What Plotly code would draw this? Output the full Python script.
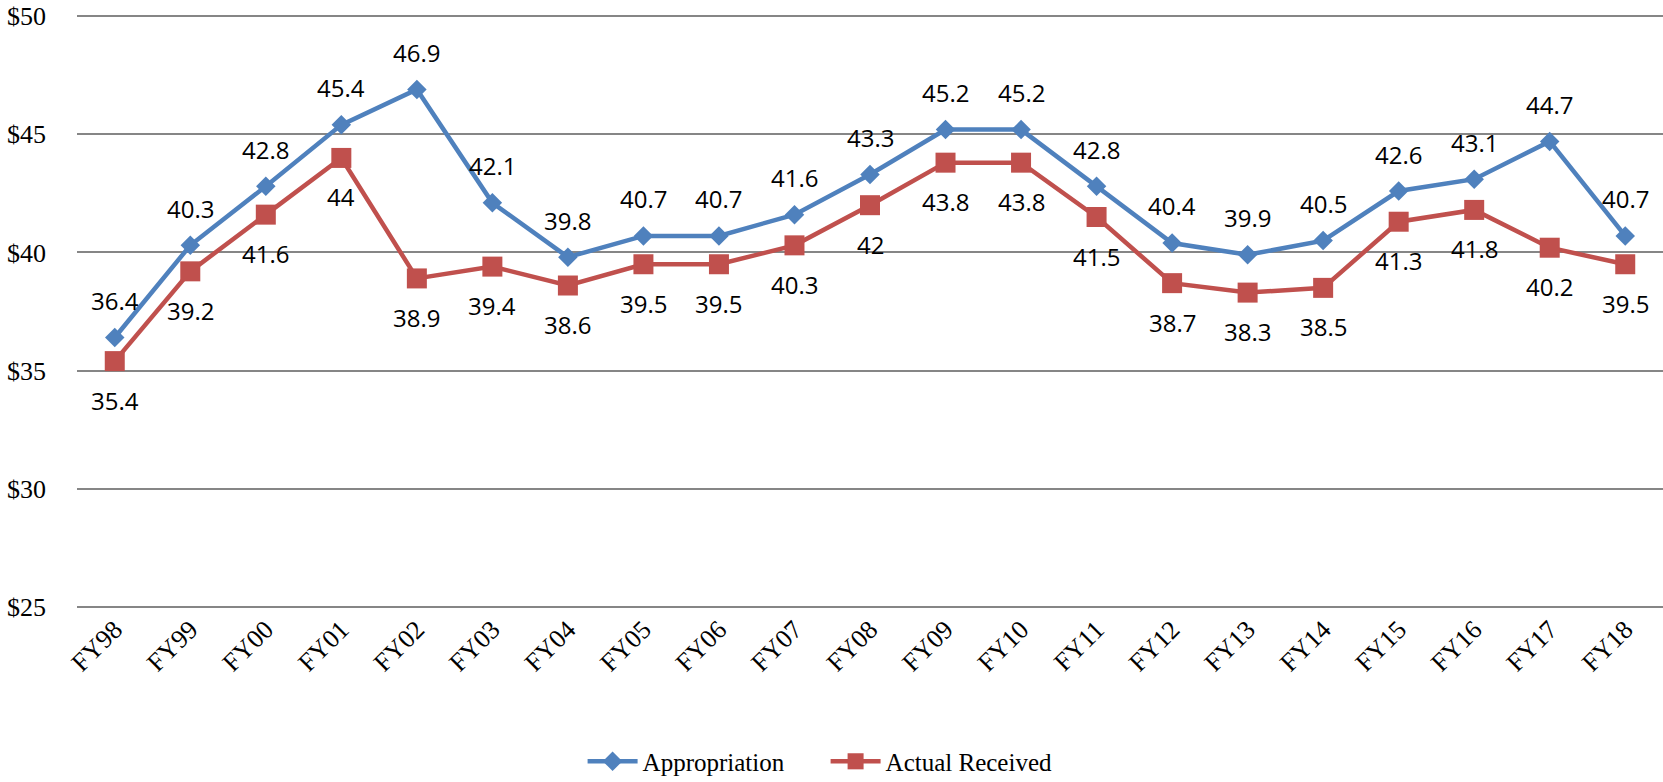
import plotly.graph_objects as go

years = ["FY98", "FY99", "FY00", "FY01", "FY02", "FY03", "FY04", "FY05", "FY06", "FY07",
         "FY08", "FY09", "FY10", "FY11", "FY12", "FY13", "FY14", "FY15", "FY16", "FY17", "FY18"]
appropriation = [36.4, 40.3, 42.8, 45.4, 46.9, 42.1, 39.8, 40.7, 40.7, 41.6,
                 43.3, 45.2, 45.2, 42.8, 40.4, 39.9, 40.5, 42.6, 43.1, 44.7, 40.7]
actual = [35.4, 39.2, 41.6, 44.0, 38.9, 39.4, 38.6, 39.5, 39.5, 40.3,
          42.0, 43.8, 43.8, 41.5, 38.7, 38.3, 38.5, 41.3, 41.8, 40.2, 39.5]
y_ticks = [25, 30, 35, 40, 45, 50]
y_tick_labels = ["$25", "$30", "$35", "$40", "$45", "$50"]

BLUE = "#4F81BD"
RED = "#C0504D"
SERIF = "Liberation Serif, Times New Roman, serif"
SANS = "Open Sans, Liberation Sans, sans-serif"

fig = go.Figure()
fig.add_trace(go.Scatter(
    x=years, y=appropriation, name="Appropriation", mode="lines+markers",
    line=dict(color=BLUE, width=4.5),
    marker=dict(symbol="diamond", size=15, color=BLUE),
))
fig.add_trace(go.Scatter(
    x=years, y=actual, name="Actual Received", mode="lines+markers",
    line=dict(color=RED, width=4.5),
    marker=dict(symbol="square", size=20, color=RED),
))

def fmt(v):
    return f"{v:g}"

annotations = []
for yr, v in zip(years, appropriation):
    annotations.append(dict(x=yr, y=v, text=fmt(v), showarrow=False,
                            xanchor="center", yanchor="middle", yshift=37,
                            font=dict(family=SANS, size=24, color="black")))
for yr, v in zip(years, actual):
    annotations.append(dict(x=yr, y=v, text=fmt(v), showarrow=False,
                            xanchor="center", yanchor="middle", yshift=-39,
                            font=dict(family=SANS, size=24, color="black")))

fig.update_layout(
    width=1663, height=782,
    margin=dict(l=77, r=0, t=15, b=174, autoexpand=False),
    paper_bgcolor="white", plot_bgcolor="white",
    showlegend=True,
    legend=dict(orientation="h", x=0.472, xanchor="center", y=-0.259, yanchor="middle",
                font=dict(family=SERIF, size=25, color="black"),
                itemwidth=50, tracegroupgap=0, entrywidth=178),
    annotations=annotations,
    xaxis=dict(
        type="category", range=[-0.5, 20.5], tickangle=-45, automargin=False,
        tickfont=dict(family=SERIF, size=26, color="black"),
        showgrid=False, showline=False, zeroline=False, ticks="",
    ),
    yaxis=dict(
        range=[24.95, 50.05], tickvals=y_ticks, ticktext=y_tick_labels, automargin=False,
        tickfont=dict(family=SERIF, size=26, color="black"),
        showgrid=True, gridcolor="#868686", gridwidth=1.5,
        zeroline=False, showline=False, ticks="", ticklabelstandoff=30,
    ),
)

fig.write_html(
    "out.html",
    config={"displayModeBar": False},
    post_script="document.body.style.margin='0';document.body.style.overflow='hidden';",
)
